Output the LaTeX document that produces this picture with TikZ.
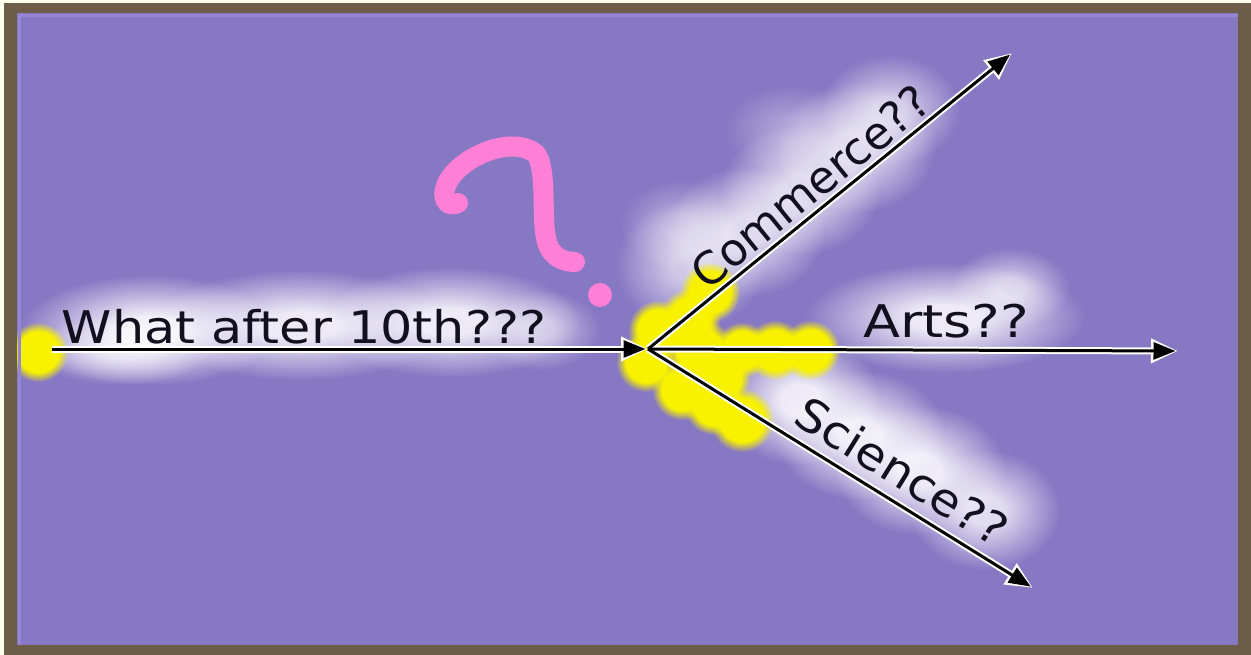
\documentclass[tikz,border=0pt]{standalone}
\usepackage{fontspec}
\setmainfont{DejaVu Sans}
\usetikzlibrary{arrows.meta,fadings,calc}
\definecolor{cream}{RGB}{255,253,236}
\definecolor{framebrown}{RGB}{108,92,72}
\definecolor{bgpurple}{RGB}{135,120,196}
\definecolor{edgelilac}{RGB}{150,134,214}
\definecolor{blobyellow}{RGB}{248,242,0}
\definecolor{qpink}{RGB}{255,128,214}
\definecolor{inkblack}{RGB}{18,16,30}
\pgfdeclareradialshading{softglowshade}{\pgfpointorigin}{color(0bp)=(white); color(6bp)=(white); color(25bp)=(black); color(50bp)=(black)}
\pgfdeclarefading{softglow}{\pgfuseshading{softglowshade}}
\pgfdeclareradialshading{yblobshade}{\pgfpointorigin}{color(0bp)=(white); color(17bp)=(white); color(25bp)=(black); color(50bp)=(black)}
\pgfdeclarefading{yblobfade}{\pgfuseshading{yblobshade}}
\tikzset{
  glowblob/.style={fill=white,path fading=softglow},
  yellowblob/.style={fill=blobyellow,path fading=yblobfade},
  halo/.style={draw=white,line width=7pt,-{Triangle[length=27pt,width=23pt]}},
  arrowline/.style={draw=black,line width=3pt,shorten >=2.5pt,-{Triangle[length=22pt,width=17pt]}},
  label/.style={font=\fontsize{45}{50}\selectfont,text=inkblack,inner sep=0pt}
}
\begin{document}
\begin{tikzpicture}[x=1pt,y=-1pt]
\useasboundingbox (0,0) rectangle (1251,655);
\fill[cream] (0,0) rectangle (1251,655);
\fill[framebrown] (4,3) rectangle (1251,655);
\fill[bgpurple] (17,13) rectangle (1238,645);
\begin{scope}
\clip (17,13) rectangle (1238,645);
% glows
\foreach \x/\y/\rx/\ry/\o in {
  150/330/130/55/.9, 300/325/150/55/.85, 450/322/130/55/.85, 540/330/60/40/.5,
  120/350/90/35/.6,
  945/318/140/55/.85, 1010/288/60/40/.6,
  690/265/75/65/.6, 745/232/80/65/.7, 800/190/80/65/.7, 855/148/80/65/.7,
  890/110/70/55/.6, 790/130/65/45/.3, 680/225/60/45/.35,
  800/400/80/65/.85, 860/435/85/65/.85, 920/470/85/65/.85,
  985/510/75/60/.75}
  \fill[glowblob,fill opacity=\o] (\x,\y) ellipse ({\rx} and {\ry});
% yellow blobs
\foreach \x/\y/\r in {38/352/30, 710/292/30, 690/318/30, 658/330/30, 646/362/30,
  700/352/34, 742/350/28, 775/350/30, 810/350/30, 682/390/30, 714/405/30,
  742/420/32, 722/378/28}
  \fill[yellowblob] (\x,\y) circle (\r);
\end{scope}
\draw[edgelilac,line width=3pt] (19.5,645) -- (19.5,15.5) -- (1238,15.5);
% pink question mark
\draw[qpink,line width=20pt,line cap=round,line join=round]
  (458,203) .. controls (443,210) and (438,190) .. (455,172)
  .. controls (478,148) and (520,138) .. (537,155)
  .. controls (548,175) and (540,225) .. (548,245)
  .. controls (553,258) and (565,262) .. (575,262);
\fill[qpink] (600,295) circle (12);
% connectors
\coordinate (start) at (52,349);
\coordinate (hub) at (648,349);
\coordinate (commerce) at (1012,53);
\coordinate (arts) at (1178,351);
\coordinate (science) at (1033,588);
\foreach \e in {commerce,arts,science}{
  \draw[halo] (hub) -- (\e);
}
\draw[halo] (start) -- (hub);
\foreach \e in {commerce,arts,science}{
  \draw[arrowline] (hub) -- (\e);
}
\draw[arrowline] (start) -- (hub);
% labels
\node[label,anchor=base,xscale=1.13] (what) at (304,343) {What after 10th???};
\node[label,anchor=base,xscale=1.2] (artsl) at (946,337) {Arts??};
\node[label,rotate=39.1] (commercel) at (810,187) {Commerce??};
\node[label,rotate=-31.8,xscale=1.08] (sciencel) at (902,471) {Science??};
\end{tikzpicture}
\end{document}
